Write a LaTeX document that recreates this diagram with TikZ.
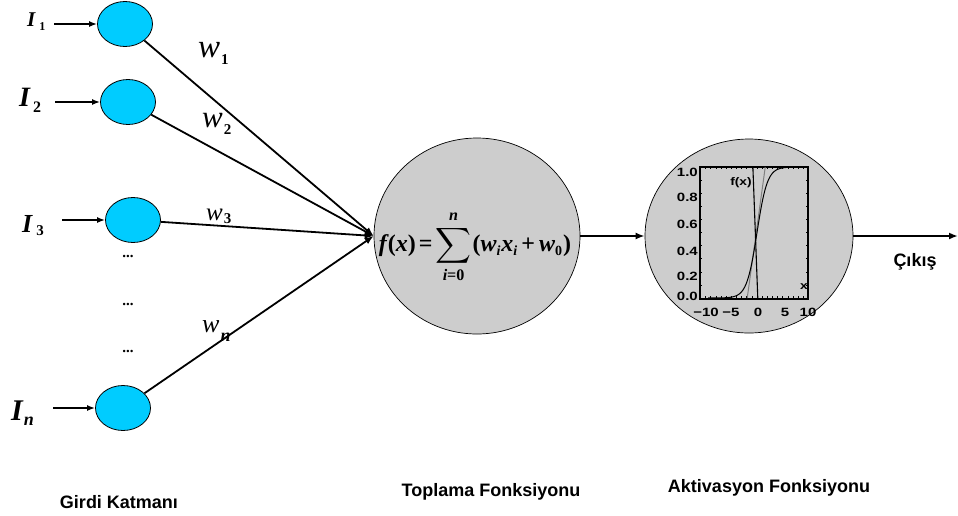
\documentclass[tikz,border=0pt]{standalone}
\usepackage{fontspec}
\usepackage{amsmath}
\setmainfont{Liberation Serif}
\newfontfamily\hsans{Liberation Sans}
\newfontfamily\hsanswide[FakeStretch=1.25]{Liberation Sans}
\usetikzlibrary{shapes.geometric,arrows.meta}
\definecolor{inblue}{RGB}{0,204,255}
\definecolor{cellgray}{RGB}{205,205,205}
\newcommand\fsz[1]{\fontsize{#1}{#1}\selectfont}
\newcommand\bi[1]{{\bfseries\itshape #1}}
\newcommand\subl[1]{\raisebox{-4pt}{\fsz{14}#1}}
\newcommand\sumformula{\bi{f}\kern1pt{\bfseries(}\bi{x}{\bfseries)}\kern3pt{\bfseries=}\kern3pt{\fsz{23}$\displaystyle\sum_{\text{\bi{i}\bfseries =0}}^{\text{\bi{n}}}$}\kern1pt{\bfseries(}\bi{w}\subl{\bi{i}}\kern1pt\bi{x}\subl{\bi{i}}\kern4pt{\bfseries+}\kern4pt\bi{w}\subl{\bfseries 0}\kern1pt{\bfseries)}}
\begin{document}
\begin{tikzpicture}[x=1pt,y=-1pt,
  inp/.style={ellipse,draw=black,line width=0.8pt,fill=inblue,minimum width=55pt,minimum height=45pt,inner sep=0pt},
  big/.style={ellipse,draw=black,line width=0.7pt,fill=cellgray,inner sep=0pt},
  conn/.style={line width=1.8pt,-{Latex[length=9pt,width=7pt]}},
  inarr/.style={line width=2pt,-{Latex[length=8pt,width=6pt]}},
  captxt/.style={font=\hsans\bfseries\fsz{18},inner sep=0pt},
  lab/.style={inner sep=0pt,anchor=base west},
  ticklab/.style={font=\hsanswide\bfseries\fsz{12},inner sep=0pt},
]
\useasboundingbox (0,0) rectangle (958,515);

% input neurons
\node[inp] (i1) at (125,24) {};
\node[inp] (i2) at (128,102) {};
\node[inp] (i3) at (133,220) {};
\node[inp] (in) at (123,408) {};

\coordinate (s1) at (54,24);
\coordinate (s2) at (55,102);
\coordinate (s3) at (62,220);
\coordinate (sn) at (53,408);
\draw[inarr] (s1) -- (i1);
\draw[inarr] (s2) -- (i2);
\draw[inarr] (s3) -- (i3);
\draw[inarr] (sn) -- (in);

% input labels
\node[lab,font=\bfseries\itshape\fsz{21}] (l1) at (27,26) {I\kern4pt\raisebox{-4pt}{\upshape\fsz{12}1}};
\node[lab,font=\bfseries\itshape\fsz{28}] (l2) at (19,106) {I\kern3pt\raisebox{-6pt}{\upshape\fsz{16}2}};
\node[lab,font=\bfseries\itshape\fsz{26}] (l3) at (22,232) {I\kern4pt\raisebox{-3pt}{\upshape\fsz{15}3}};
\node[lab,font=\bfseries\itshape\fsz{30}] (ln) at (11,420) {I\kern1pt\raisebox{-5pt}{\fsz{18}n}};

% dots
\node[font=\bfseries\fsz{15},inner sep=0pt] (d1) at (128,256) {...};
\node[font=\bfseries\fsz{15},inner sep=0pt] (d2) at (128,304) {...};
\node[font=\bfseries\fsz{15},inner sep=0pt] (d3) at (128,351) {...};

% summation and activation
\node[big,minimum width=206pt,minimum height=196pt] (sum) at (477,236) {};
\node[big,minimum width=208pt,minimum height=194pt] (act) at (749,236) {};
\node[font=\fsz{24}\boldmath,inner sep=0pt] (fx) at (475,247) {\sumformula};

% connectors
\draw[conn] (i1) -- (sum.west);
\draw[conn] (i2) -- (sum.west);
\draw[conn] (i3) -- (sum.west);
\draw[conn] (in) -- (sum.west);
\draw[conn] (sum) -- (act);
\coordinate (oe) at (958,236);
\draw[conn] (act) -- (oe);

% weights
\node[lab,font=\itshape\fsz{33}] (w1) at (198,57) {w\kern1pt\raisebox{-7pt}{\upshape\bfseries\fsz{15}1}};
\node[lab,font=\itshape\fsz{31}] (w2) at (202,127) {w\kern1pt\raisebox{-7pt}{\upshape\bfseries\fsz{15}2}};
\node[lab,font=\itshape\fsz{25}] (w3) at (206,220) {w\kern1pt\raisebox{-3pt}{\upshape\bfseries\fsz{15}3}};
\node[lab,font=\itshape\fsz{26}] (wn) at (202,332) {w\kern1pt\raisebox{-9pt}{\bfseries\fsz{18}n}};

% plot inside activation
\draw[line width=1.2pt] (700,167) rectangle (808,299);
\begin{scope}[shift={(757,298)},x=5.15pt,y=131pt]
  \foreach \t in {-10,...,9} {
    \draw[line width=0.6pt] (\t,0) -- (\t,0.015);
    \draw[line width=0.6pt] (\t,1) -- (\t,0.985);
  }
  \foreach \t in {0.1,0.2,...,0.95} {
    \draw[line width=0.6pt] (-11.1,\t) -- (-10.7,\t);
    \draw[line width=0.6pt] (9.9,\t) -- (9.5,\t);
  }
  \draw[gray,line width=1pt] (-1.9,0) -- (1.6,1);
  \draw[line width=1.1pt] (-0.8,1) -- (0.15,0);
  \draw[line width=1pt,domain=-9.5:9.8,samples=90,smooth] plot (\x,{1/(1+exp(-\x))});
\end{scope}
\node[ticklab,anchor=east] (y10) at (698,172) {1.0};
\node[ticklab,anchor=east] (y08) at (698,197) {0.8};
\node[ticklab,anchor=east] (y06) at (698,224) {0.6};
\node[ticklab,anchor=east] (y04) at (698,251) {0.4};
\node[ticklab,anchor=east] (y02) at (698,276) {0.2};
\node[ticklab,anchor=east] (y00) at (698,296) {0.0};
\node[ticklab] (xm10) at (706,312) {−10};
\node[ticklab] (xm5) at (731,312) {−5};
\node[ticklab] (x0) at (758,312) {0};
\node[ticklab] (x5) at (785,312) {5};
\node[ticklab] (x10) at (808,312) {10};
\node[ticklab,font=\hsanswide\bfseries\fsz{11}] (fxl) at (741,183) {f(x)};
\node[ticklab,font=\hsanswide\bfseries\fsz{11}] (xl) at (804,287) {x};

% captions
\node[captxt] (out) at (915,262) {Çıkış};
\node[captxt] (c1) at (119,502) {Girdi Katmanı};
\node[captxt] (c2) at (491,492) {Toplama Fonksiyonu};
\node[captxt] (c3) at (769,488) {Aktivasyon Fonksiyonu};
\end{tikzpicture}
\end{document}
